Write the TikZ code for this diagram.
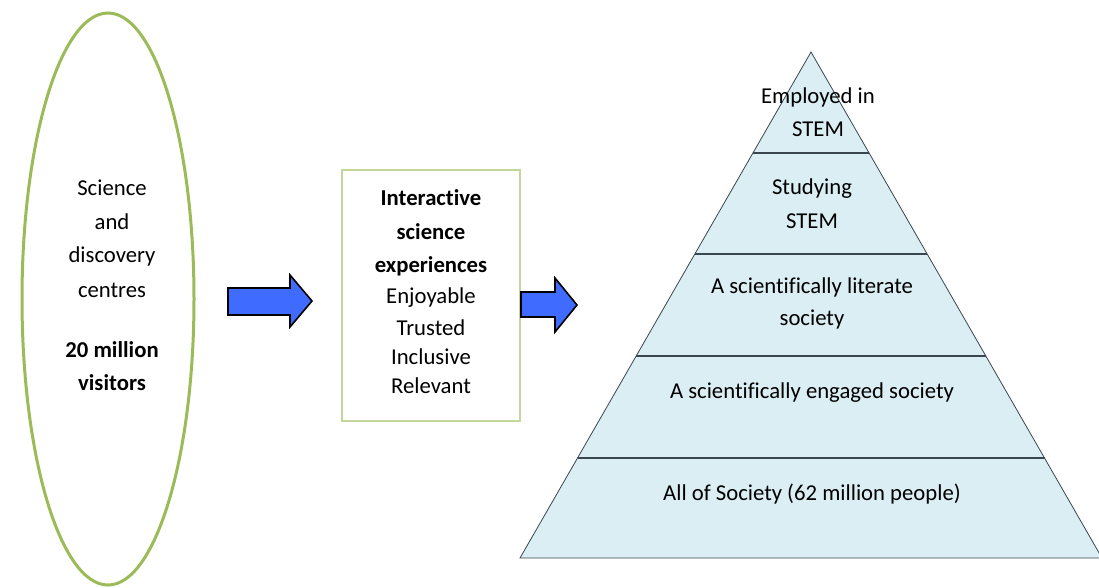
\documentclass[tikz,border=0pt]{standalone}
\usepackage{fontspec}
\setmainfont[Ligatures={NoCommon}]{Carlito}
\definecolor{ellgreen}{HTML}{9BBB59}
\definecolor{boxgreen}{HTML}{C3D69B}
\definecolor{pyrfill}{HTML}{DAEEF3}
\definecolor{pyrline}{HTML}{3A4650}
\definecolor{arrblue}{HTML}{3F6BFF}
\begin{document}
\begin{tikzpicture}[x=1pt,y=-1pt,
  lbl/.style={font=\fontsize{22.7}{27}\selectfont, inner sep=0pt, anchor=center},
  blbl/.style={lbl, font=\fontsize{22.7}{27}\selectfont\bfseries},
  blockarrow/.style={fill=arrblue, draw=black, line width=1.6pt, line join=miter}]
\useasboundingbox (0,0) rectangle (1099,587);
% ellipse
\draw[ellgreen, line width=3pt] (108,299) ellipse [x radius=86, y radius=286];
\node[lbl] (e1) at (112,188) {Science};
\node[lbl] (e2) at (112,222) {and};
\node[lbl] (e3) at (112,256) {discovery};
\node[lbl] (e4) at (112,290) {centres};
\node[blbl] (e5) at (112,350) {20 million};
\node[blbl] (e6) at (112,383) {visitors};
% arrow 1
\draw[blockarrow] (228,288) -- (290,288) -- (290,275) -- (312,301) -- (290,327) -- (290,315) -- (228,315) -- cycle;
% box
\draw[boxgreen, line width=2pt] (342,170) rectangle (520,421);
\node[blbl] (b1) at (431,198) {Interactive};
\node[blbl] (b2) at (431,232) {science};
\node[blbl] (b3) at (431,266) {experiences};
\node[lbl] (b4) at (431,298) {Enjoyable};
\node[lbl] (b5) at (431,328) {Trusted};
\node[lbl] (b6) at (431,357) {Inclusive};
\node[lbl] (b7) at (431,386) {Relevant};
% arrow 2
\draw[blockarrow] (521,292) -- (555,292) -- (555,278) -- (577,305) -- (555,332) -- (555,317) -- (521,317) -- cycle;
% pyramid
\coordinate (apex) at (811,52);
\coordinate (bl) at (520,558);
\coordinate (br) at (1102,558);
\fill[pyrfill] (apex) -- (bl) -- (br) -- cycle;
\draw[pyrline, line width=0.8pt] (apex) -- (bl) -- (br) -- cycle;
\foreach \yy in {153,254,356,458} {
  \pgfmathsetmacro{\dx}{0.5751*(\yy-52)}
  \draw[pyrline, line width=2pt] ({811-\dx},\yy) -- ({811+\dx},\yy);
}
\node[lbl] (p1) at (818,97) {Employed in};
\node[lbl] (p2) at (818,129) {STEM};
\node[lbl] (p3) at (812,189) {Studying};
\node[lbl] (p4) at (812,221) {STEM};
\node[lbl] (p5) at (812,287) {A scientifically literate};
\node[lbl] (p6) at (812,320) {society};
\node[lbl] (p7) at (812,393) {A scientifically engaged society};
\node[lbl] (p8) at (812,494) {All of Society (62 million people)};
\end{tikzpicture}
\end{document}
